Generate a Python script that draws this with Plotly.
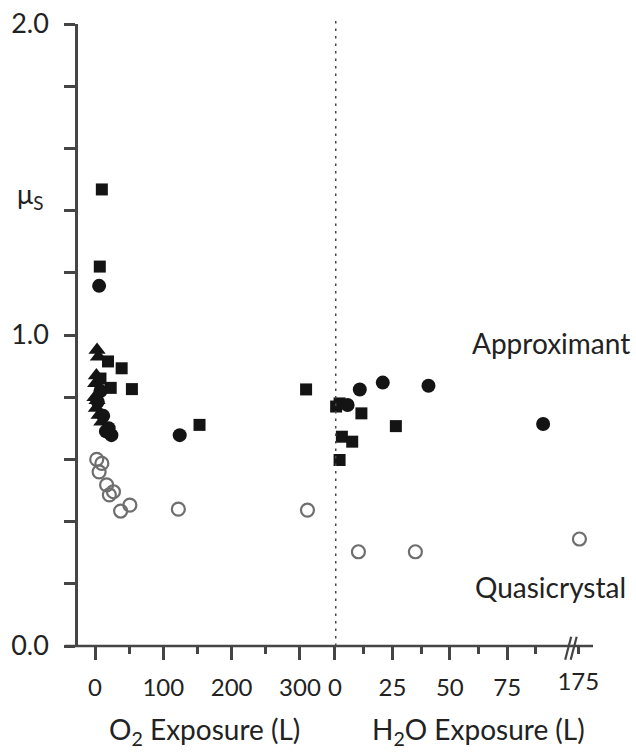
import plotly.graph_objects as go

# ---- data: static friction coefficient vs. gas exposure ----
# O2 exposure (Langmuir)
o2_sq_x = [10, 7, 19, 39, 23, 54, 8, 309, 153]
o2_sq_y = [1.468, 1.22, 0.915, 0.893, 0.83, 0.826, 0.86, 0.825, 0.711]
o2_ci_x = [6, 8, 4, 12, 20, 24, 16, 124]
o2_ci_y = [1.158, 0.82, 0.785, 0.74, 0.70, 0.678, 0.69, 0.678]
o2_tr_x = [3, 5, 2, 1, 0, 3, 2, 6, 10]
o2_tr_y = [0.952, 0.93, 0.87, 0.845, 0.80, 0.79, 0.765, 0.743, 0.721]
o2_open_x = [2.5, 10, 6, 17, 27, 21, 51, 37.5, 122, 311]
o2_open_y = [0.60, 0.587, 0.56, 0.518, 0.496, 0.486, 0.453, 0.434, 0.44, 0.437]

# H2O exposure (Langmuir)
h2o_sq_x = [0.5, 2, 11.5, 26.5, 3, 7.5, 2]
h2o_sq_y = [0.77, 0.78, 0.748, 0.707, 0.673, 0.657, 0.598]
h2o_ci_x = [5.5, 10.8, 20.8, 40.7, 90.6]
h2o_ci_y = [0.775, 0.825, 0.847, 0.837, 0.714]
h2o_open_x = [10.2, 35]
h2o_open_y = [0.303, 0.303]
# beyond the axis break
h2o_far_open_x = [175.5]
h2o_far_open_y = [0.344]

o2_ticks = [0, 100, 200, 300]
o2_minor = [50, 150, 250]
h2o_ticks = [0, 25, 50, 75]
h2o_minor = [12.5, 37.5, 62.5, 87.5]
far_ticks = [175]
y_ticks = [0, 1, 2]
y_ticktext = ["0.0", "1.0", "2.0"]
y_minor = [0.2, 0.4, 0.6, 0.8, 1.2, 1.4, 1.6, 1.8]

FONT = "Lato"
INK = "#222222"
AXC = "#454545"
MARK = "#141414"
OPEN = "#6e6e6e"

fig = go.Figure()


def filled(x, y, symbol, size, xa):
    fig.add_trace(go.Scatter(
        x=x, y=y, mode="markers", xaxis=xa, yaxis="y",
        marker=dict(symbol=symbol, size=size, color=MARK,
                    line=dict(width=0)),
        showlegend=False, hoverinfo="skip", cliponaxis=False))


def hollow(x, y, xa):
    fig.add_trace(go.Scatter(
        x=x, y=y, mode="markers", xaxis=xa, yaxis="y",
        marker=dict(symbol="circle-open", size=13,
                    color=OPEN, line=dict(width=2.2, color=OPEN)),
        showlegend=False, hoverinfo="skip", cliponaxis=False))


hollow(o2_open_x, o2_open_y, "x")
hollow(h2o_open_x, h2o_open_y, "x2")
hollow(h2o_far_open_x, h2o_far_open_y, "x3")
filled(o2_tr_x, o2_tr_y, "triangle-up", 15, "x")
filled(o2_sq_x, o2_sq_y, "square", 12, "x")
filled(o2_ci_x, o2_ci_y, "circle", 14, "x")
filled(h2o_sq_x, h2o_sq_y, "square", 12, "x2")
filled(h2o_ci_x, h2o_ci_y, "circle", 14, "x2")

tickfont = dict(family=FONT, size=24, color=INK)
common_x = dict(showgrid=False, zeroline=False, showline=False,
                ticks="outside", tickcolor=AXC, tickwidth=2.5,
                tickfont=tickfont, anchor="y", fixedrange=True,
                ticklabelstandoff=7, automargin=False)

fig.update_layout(
    width=636, height=752, autosize=False,
    margin=dict(l=78, r=43, t=24, b=106),
    paper_bgcolor="white", plot_bgcolor="white",
    xaxis=dict(domain=[0, 0.499], range=[-24.9, 351.3],
               tickmode="array", tickvals=o2_ticks, ticklen=13,
               minor=dict(tickmode="array", tickvals=o2_minor,
                          ticklen=7, tickcolor=AXC, tickwidth=2.5,
                          ticks="outside"),
               **common_x),
    xaxis2=dict(domain=[0.499, 0.9464], range=[0, 100.3],
                tickmode="array", tickvals=h2o_ticks, ticklen=13,
                minor=dict(tickmode="array", tickvals=h2o_minor,
                           ticklen=7, tickcolor=AXC, tickwidth=2.5,
                           ticks="outside"),
                **common_x),
    xaxis3=dict(domain=[0.9464, 1.0], range=[169.3, 181.5],
                tickmode="array", tickvals=far_ticks, ticklen=7,
                **common_x),
    yaxis=dict(range=[0, 2], showgrid=False, zeroline=False,
               showline=True, linecolor=AXC, linewidth=2.5,
               ticks="outside", ticklen=11, tickcolor=AXC, tickwidth=2.5,
               tickmode="array", tickvals=y_ticks, ticktext=y_ticktext,
               tickfont=dict(family=FONT, size=27, color=INK),
               ticklabelstandoff=10, automargin=False,
               minor=dict(tickmode="array", tickvals=y_minor,
                          ticklen=11, tickcolor=AXC, tickwidth=2.5,
                          ticks="outside"),
               fixedrange=True),
)

# continuous bottom axis line, stub reaching left of the y axis
fig.add_shape(type="line", xref="paper", yref="paper",
              x0=-0.0252, x1=1.0, y0=0, y1=0,
              line=dict(color=AXC, width=2.5))
# axis break marks
for dx in (0.0, 0.0107):
    fig.add_shape(type="line", xref="paper", yref="paper",
                  x0=0.9460 + dx, x1=0.9576 + dx, y0=-0.022, y1=0.015,
                  line=dict(color=AXC, width=2.2))
# dotted separator at the start of the H2O exposure scale
fig.add_shape(type="line", xref="x2", yref="paper",
              x0=0, x1=0, y0=0, y1=1.006,
              line=dict(color="#474747", width=3, dash="2.5px,5px"))

lab = dict(family=FONT, size=28, color=INK)
title = dict(family=FONT, size=28, color=INK)
fig.add_annotation(text="μ<sub>S</sub>", xref="paper", yref="paper",
                   x=-0.0932, y=0.7235, showarrow=False,
                   xanchor="center", yanchor="middle",
                   font=dict(family=FONT, size=27, color=INK))
fig.add_annotation(text="O<sub>2</sub> Exposure (L)", xref="paper",
                   yref="paper", x=0.2466, y=-0.137, showarrow=False,
                   xanchor="center", yanchor="middle", font=title)
fig.add_annotation(text="H<sub>2</sub>O Exposure (L)", xref="paper",
                   yref="paper", x=0.7767, y=-0.137, showarrow=False,
                   xanchor="center", yanchor="middle", font=title)
fig.add_annotation(text="Approximant", xref="paper", yref="paper",
                   x=1.0757, y=0.487, showarrow=False,
                   xanchor="right", yanchor="middle", font=lab)
fig.add_annotation(text="Quasicrystal", xref="paper", yref="paper",
                   x=1.068, y=0.0949, showarrow=False,
                   xanchor="right", yanchor="middle", font=lab)

fig.write_html("out.html")
